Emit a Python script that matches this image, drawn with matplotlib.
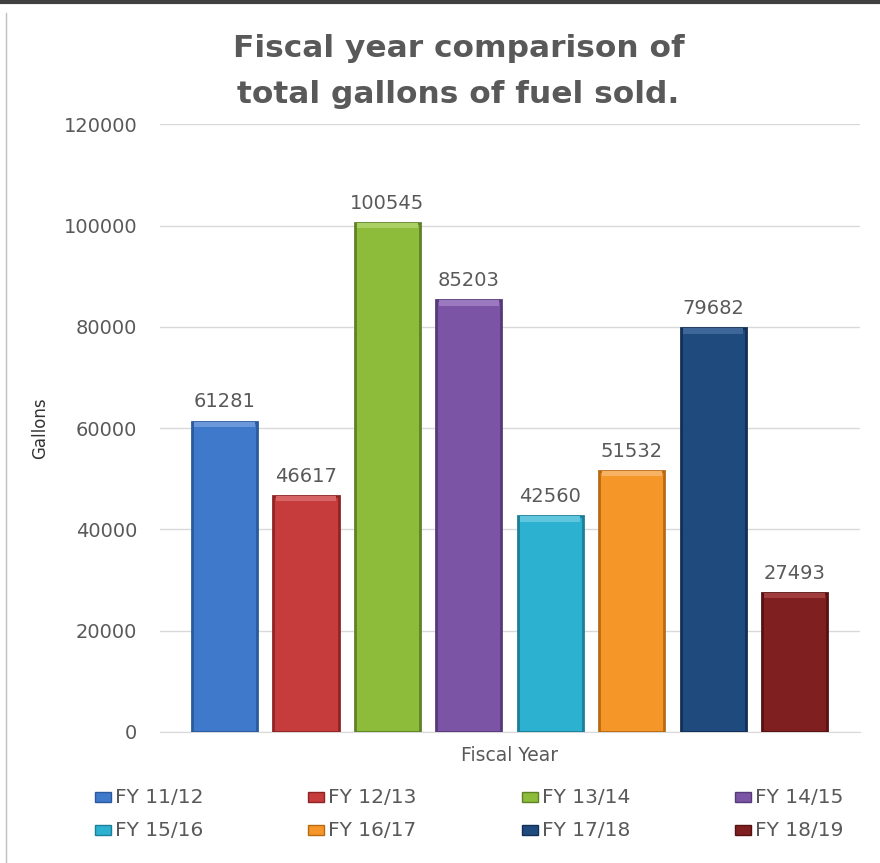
import matplotlib.pyplot as plt
from matplotlib.patches import Rectangle
from matplotlib.lines import Line2D

years = ['FY 11/12', 'FY 12/13', 'FY 13/14', 'FY 14/15',
         'FY 15/16', 'FY 16/17', 'FY 17/18', 'FY 18/19']
gallons = [61281, 46617, 100545, 85203, 42560, 51532, 79682, 27493]
colors = ['#3F79CC', '#C63B3B', '#8DBB3A', '#7B54A6',
          '#2DB1D0', '#F59628', '#1F4A7E', '#801F1F']
edges = ['#2A5A9C', '#8E2424', '#5F8227', '#563A7A',
         '#1C7F99', '#B86A12', '#132F55', '#561212']
tops = ['#6A98DA', '#D86565', '#AACF62', '#9A79C0',
        '#5FC6DE', '#F8B264', '#3F6699', '#A23D3D']

plt.rcParams['font.family'] = ['DejaVu Sans']
grey = '#595959'

fig = plt.figure(figsize=(8.8, 8.63), dpi=100)
ax = fig.add_axes([0.182, 0.152, 0.795, 0.704])

x = list(range(len(years)))
ax.bar(x, gallons, width=0.8, color=colors, edgecolor=edges, linewidth=2, zorder=3)
# bevel highlight on the top of each bar
band = 1100
ax.bar(x, [band] * len(x), bottom=[v - band for v in gallons], width=0.74,
       color=tops, linewidth=0, zorder=4)
for xi, v in zip(x, gallons):
    ax.text(xi, v + 2000, str(v), ha='center', va='bottom', fontsize=14, color=grey)

ax.set_xlim(-0.79, 7.8)
ax.set_ylim(0, 120000)
ax.set_yticks(range(0, 120001, 20000))
ax.tick_params(axis='y', length=0, labelsize=14, labelcolor=grey, pad=16.5)
ax.set_xticks([])
ax.grid(axis='y', color='#D9D9D9', linewidth=1, zorder=0)
for s in ['top', 'right', 'left']:
    ax.spines[s].set_visible(False)
ax.spines['bottom'].set_color('#D9D9D9')

ax.set_ylabel('Gallons', fontsize=12, color='#333333', labelpad=10)
ax.set_xlabel('Fiscal Year', fontsize=13.5, color=grey, labelpad=10)

fig.text(0.521, 0.944, 'Fiscal year comparison of', ha='center', va='center',
         fontsize=22.5, fontweight='bold', color=grey)
fig.text(0.521, 0.890, 'total gallons of fuel sold.', ha='center', va='center',
         fontsize=22.5, fontweight='bold', color=grey)

# legend: 2 rows x 4 columns
col_x = [95, 308, 522, 735]
row_y = [797, 830]
W, H = 880, 863
for i, (lab, c, e) in enumerate(zip(years, colors, edges)):
    cx = col_x[i % 4]
    cy = row_y[i // 4]
    fig.add_artist(Rectangle((cx / W, 1 - (cy + 5) / H), 16 / W, 10 / H,
                             facecolor=c, edgecolor=e, linewidth=1,
                             transform=fig.transFigure))
    fig.text((cx + 20) / W, 1 - cy / H, lab, ha='left', va='center',
             fontsize=14.5, color=grey)

fig.add_artist(Line2D([0, 1], [0.998, 0.998], color='#404040', linewidth=3))
fig.add_artist(Line2D([0.007, 0.007], [0, 0.985], color='#BFBFBF', linewidth=1))

fig.savefig('out.png', dpi=100)
